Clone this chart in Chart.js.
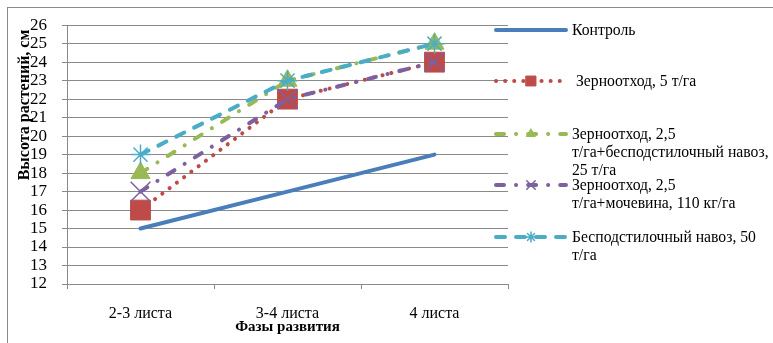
<!DOCTYPE html>
<html>
<head>
<meta charset="utf-8">
<script src="https://cdn.jsdelivr.net/npm/chart.js@4.4.1/dist/chart.umd.min.js"></script>
<style>
html,body{margin:0;padding:0;background:#fff;}
#wrap{width:773px;height:343px;position:relative;}
</style>
</head>
<body>
<div id="wrap"><canvas id="c" width="773" height="343"></canvas></div>
<script>
const categories = ['2-3 листа', '3-4 листа', '4 листа'];
const seriesNames = [
  ['Контроль'],
  ['Зерноотход, 5 т/га'],
  ['Зерноотход, 2,5', 'т/га+бесподстилочный навоз,', '25 т/га'],
  ['Зерноотход, 2,5', 'т/га+мочевина, 110 кг/га'],
  ['Бесподстилочный навоз, 50', 'т/га']
];
const control = [15, 17, 19];
const grainWaste5 = [16, 22, 24];
const grainWasteManure = [18, 23, 25];
const grainWasteUrea = [17, 22, 24];
const manure50 = [19, 23, 25];
const yTicks = [12, 26];
const yTitle = 'Высота растений, см';
const xTitle = 'Фазы развития';

const FONT = '"Liberation Serif", "Times New Roman", serif';
const GRID = '#8a8a8a';

const styles = [
  {color:'#4A7EBB', dash:[], pointStyle:false, r:0, lr:0, pbw:0},
  {color:'#BE4B48', dash:[0.1, 9], pointStyle:'rect', r:14, lr:7, pbw:1},
  {color:'#98B954', dash:[8, 12, 0.1, 12], pointStyle:'triangle', r:11, lr:5, pbw:1},
  {color:'#7D60A0', dash:[8, 12, 0.1, 12], pointStyle:'crossRot', r:14, lr:6, pbw:1.5},
  {color:'#4BACC6', dash:[9, 11], pointStyle:'star', r:10, lr:5, pbw:1.5}
];
const values = [control, grainWaste5, grainWasteManure, grainWasteUrea, manure50];

const datasets = values.map((v, i) => ({
  label: seriesNames[i].join(' '),
  data: v,
  borderColor: styles[i].color,
  backgroundColor: styles[i].color,
  borderWidth: 4,
  borderDash: styles[i].dash,
  borderCapStyle: 'round',
  borderJoinStyle: 'round',
  tension: 0,
  fill: false,
  pointStyle: styles[i].pointStyle || 'circle',
  pointRadius: styles[i].r,
  pointHoverRadius: styles[i].r,
  pointBorderWidth: styles[i].pbw,
  pointBorderColor: styles[i].color,
  pointBackgroundColor: styles[i].color,
  order: 5 - i
}));

const decor = {
  id: 'decor',
  beforeDraw(chart) {
    const ctx = chart.ctx;
    ctx.save();
    ctx.strokeStyle = '#8a8a8a';
    ctx.lineWidth = 1;
    ctx.strokeRect(7.5, 7.5, 900, 600);
    ctx.restore();
  },
  afterDraw(chart) {
    const ctx = chart.ctx;
    ctx.save();
    ctx.fillStyle = '#000';
    ctx.font = 'bold 16px ' + FONT;
    ctx.textAlign = 'center';
    ctx.textBaseline = 'middle';
    ctx.translate(25, 105);
    ctx.rotate(-Math.PI / 2);
    ctx.fillText(yTitle, 0, 0);
    ctx.restore();

    const firstY = [30, 81, 134, 185, 237];
    const x0 = 496, x1 = 566, tx = 572;
    ctx.save();
    for (let i = 0; i < styles.length; i++) {
      const s = styles[i];
      const y = firstY[i];
      ctx.beginPath();
      ctx.strokeStyle = s.color;
      ctx.lineWidth = 4;
      ctx.lineCap = 'round';
      ctx.setLineDash(s.dash);
      ctx.moveTo(x0, y);
      ctx.lineTo(x1, y);
      ctx.stroke();
      ctx.setLineDash([]);
      if (s.pointStyle) {
        ctx.fillStyle = s.color;
        ctx.strokeStyle = s.color;
        ctx.lineWidth = s.pbw;
        Chart.helpers.drawPoint(ctx, {pointStyle: s.pointStyle, radius: s.lr, rotation: 0, borderWidth: s.pbw}, (x0 + x1) / 2, y);
      }
      ctx.fillStyle = '#000';
      ctx.font = '15.7px ' + FONT;
      ctx.textAlign = 'left';
      ctx.textBaseline = 'middle';
      const lines = seriesNames[i];
      for (let k = 0; k < lines.length; k++) {
        ctx.fillText(lines[k], i === 1 ? tx + 4 : tx, y + 1 + k * 18);
      }
    }
    ctx.restore();
  }
};

new Chart(document.getElementById('c'), {
  type: 'line',
  data: { labels: categories, datasets },
  options: {
    responsive: false,
    animation: false,
    events: [],
    layout: { padding: { top: 18, right: 265, left: 0, bottom: 0 } },
    plugins: { legend: { display: false }, tooltip: { enabled: false } },
    scales: {
      x: {
        type: 'category',
        offset: true,
        grid: { display: true, drawOnChartArea: false, drawTicks: true, tickLength: 5, offset: true, color: GRID },
        border: { color: GRID, width: 1 },
        ticks: { color: '#000', font: { family: FONT, size: 16 }, padding: 15 },
        title: { display: true, text: xTitle, color: '#000', font: { family: FONT, size: 15, weight: 'bold' }, padding: { top: 0, bottom: 7 } },
        afterFit(s) { s.height = 59; }
      },
      y: {
        min: yTicks[0],
        max: yTicks[1],
        ticks: { stepSize: 1, autoSkip: false, color: '#000', font: { family: FONT, size: 17 }, padding: 15 },
        grid: { color: GRID, tickLength: 5, lineWidth: 1 },
        border: { color: GRID, width: 1 },
        afterFit(s) { s.width = 67; }
      }
    }
  },
  plugins: [decor]
});
</script>
</body>
</html>
